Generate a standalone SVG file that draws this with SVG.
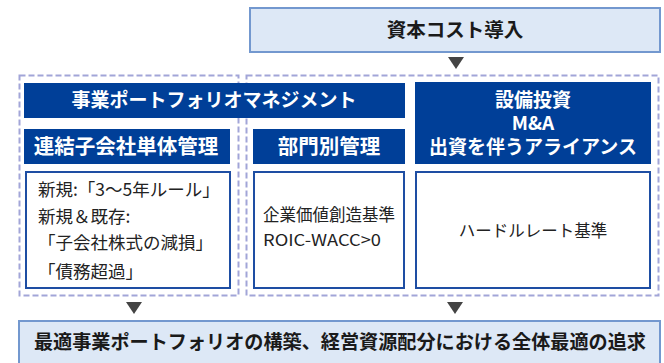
<svg xmlns="http://www.w3.org/2000/svg" width="664" height="363" viewBox="0 0 664 363">
<defs>
<style>
.lb{fill:#dde8f6;stroke:#7398cf;stroke-width:2}
.dash{fill:none;stroke:#a2a5d8;stroke-width:2;stroke-dasharray:6 3}
.bar{fill:#003f98}
.wb{fill:#fff;stroke:#1e4ea3;stroke-width:2}
.tri{fill:#444}
text{font-family:"Noto Sans CJK JP","Noto Sans",sans-serif}
.h{fill:#fff;font-size:19px;font-weight:bold;text-anchor:middle}
.s{fill:#fff;font-size:20.5px;font-weight:bold;text-anchor:middle}
.k{fill:#1a1a1a;font-size:19.5px;font-weight:bold;text-anchor:middle}
.t{fill:#222;font-size:17.5px}
.m{fill:#222;font-size:16.5px}
</style>
</defs>
<rect width="664" height="363" fill="#fff"/>
<g id="groups">
<rect class="dash" x="19.5" y="75.5" width="219" height="220"/>
<rect class="dash" x="246.5" y="75.5" width="412" height="220"/>
</g>
<g id="cost">
<rect class="lb" x="250" y="8" width="410" height="44"/>
<text class="k" x="455" y="37">資本コスト導入</text>
</g>
<g id="portfolio">
<rect class="bar" x="24" y="83" width="381" height="35"/>
<text class="h" x="214" y="107">事業ポートフォリオマネジメント</text>
</g>
<g id="capex">
<rect class="bar" x="415" y="82" width="236" height="82"/>
<text class="h" x="533" y="107" font-size="19.5">設備投資</text>
<text class="h" x="533" y="130" font-size="19.5">M&amp;A</text>
<text class="h" x="533" y="154" font-size="19.5">出資を伴うアライアンス</text>
</g>
<g id="subsidiary">
<rect class="bar" x="24" y="129" width="206" height="35"/>
<text class="s" x="126" y="154">連結子会社単体管理</text>
</g>
<g id="subsidiary-body">
<rect class="wb" x="26" y="172" width="204" height="116"/>
<text class="t" x="38" y="196">新規:「3〜5年ルール」</text>
<text class="t" x="38" y="223">新規＆既存:</text>
<text class="t" x="38" y="249">「子会社株式の減損」</text>
<text class="t" x="38" y="278">「債務超過」</text>
</g>
<g id="division">
<rect class="bar" x="253" y="129" width="152" height="35"/>
<text class="s" x="329" y="154">部門別管理</text>
</g>
<g id="division-body">
<rect class="wb" x="254" y="172" width="150" height="116"/>
<text class="m" x="263" y="221">企業価値創造基準</text>
<text class="m" x="263" y="246" textLength="118" lengthAdjust="spacingAndGlyphs">ROIC-WACC&gt;0</text>
</g>
<g id="capex-body">
<rect class="wb" x="416" y="172" width="234" height="116"/>
<text class="m" x="533" y="237" text-anchor="middle" font-size="17">ハードルレート基準</text>
</g>
<g id="connectors">
<polygon class="tri" points="448,57 464,57 456,69"/>
<polygon class="tri" points="126,302 142,302 134,314"/>
<polygon class="tri" points="447,302 463,302 455,314"/>
</g>
<g id="goal">
<rect class="lb" x="19" y="321" width="641" height="50"/>
<text class="k" x="340" y="349" font-size="19" textLength="612" lengthAdjust="spacingAndGlyphs">最適事業ポートフォリオの構築、経営資源配分における全体最適の追求</text>
</g>
</svg>
